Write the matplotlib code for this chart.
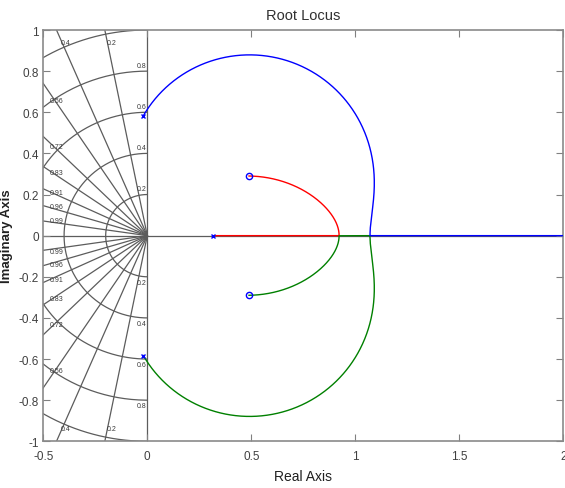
import numpy as np
import matplotlib
matplotlib.use('Agg')
from matplotlib import pyplot as plt

plt.rcParams['font.family'] = ['Liberation Sans', 'DejaVu Sans']

# open-loop poles and zeros
pole_real = 0.317
pole_pair = -0.019 + 0.583j
zero_pair = 0.489 + 0.29j

# s-plane grid: damping ratios and natural frequencies
zetas = [0.2, 0.4, 0.56, 0.72, 0.83, 0.91, 0.96, 0.99]
wns = [0.2, 0.4, 0.6, 0.8, 1.0]

xticks = [-0.5, 0, 0.5, 1, 1.5, 2]
yticks = [-1, -0.8, -0.6, -0.4, -0.2, 0, 0.2, 0.4, 0.6, 0.8, 1]

poles = np.array([pole_real, pole_pair, np.conj(pole_pair)])
zeros = np.array([zero_pair, np.conj(zero_pair)])

den = np.poly(poles).real
num = np.poly(zeros).real
num3 = np.concatenate([[0.0], num])

# break points on the real axis -> gains where branches meet
brk = np.polysub(np.polymul(np.polyder(den), num), np.polymul(den, np.polyder(num)))
sb = np.roots(brk)
sb = sb[(abs(sb.imag) < 1e-9) & (sb.real > pole_real)].real
kb = np.sort(np.polyval(den, sb) / np.polyval(num, sb))
k_lo, k_hi = kb[0], kb[-1]

gains = [np.logspace(-4, 7, 8000)]
for k in kb:
    d = np.logspace(-10, -0.5, 400)
    gains += [k * (1 - d), k * (1 + d), [k]]
gains = np.unique(np.concatenate(gains))

red, green, blue = [], [], []
for K in gains:
    r = np.roots(den - K * num3)
    if k_lo <= K <= k_hi:
        r = np.sort(r.real).astype(complex)
        red.append(r[0]); green.append(r[1]); blue.append(r[2])
    else:
        r = r[np.argsort(r.imag)]
        if K < k_lo:
            red.append(r[1]); blue.append(r[2]); green.append(r[0])
        else:
            blue.append(r[1]); red.append(r[2]); green.append(r[0])
red, green, blue = np.array(red), np.array(green), np.array(blue)

fig = plt.figure(figsize=(5.65, 4.89), dpi=100)
ax = fig.add_axes([0.0766, 0.0955, 0.9204, 0.8411])

gcol = '#5c5c5c'
lab = dict(fontsize=5, color='#3a3a3a', ha='center', va='center')

# damping lines
for z in zetas:
    w = np.sqrt(1 - z ** 2)
    for sgn in (1, -1):
        ax.plot([0, -3 * z], [0, sgn * 3 * w], color=gcol, lw=0.9, zorder=1)
        if z <= 0.4:
            yl = 0.94
            ax.text(-yl * z / w + 0.02, sgn * yl, f'{z:g}', **lab)
        else:
            xl = -0.435
            ax.text(xl, sgn * (-xl * w / z + 0.013), f'{z:g}', **lab)

# natural frequency arcs
th = np.linspace(np.pi / 2, 3 * np.pi / 2, 300)
for wn in wns:
    ax.plot(wn * np.cos(th), wn * np.sin(th), color=gcol, lw=0.9, zorder=1)
    if wn < 1:
        for sgn in (1, -1):
            ax.text(-0.003, sgn * (wn + 0.028), f'{wn:g}', fontsize=5, color='#3a3a3a',
                    ha='right', va='center')

ax.axhline(0, color=gcol, lw=0.9, zorder=1)
ax.axvline(0, color=gcol, lw=0.9, zorder=1)

ax.plot(red.real, red.imag, color=(1, 0, 0), lw=1, zorder=3)
ax.plot(green.real, green.imag, color=(0, 0.5, 0), lw=1, zorder=3)
ax.plot(blue.real, blue.imag, color=(0, 0, 1), lw=1, zorder=3)

ax.plot(poles.real, poles.imag, 'x', color='b', ms=3, mew=1, zorder=4)
ax.plot(zeros.real, zeros.imag, 'o', color='b', mfc='none', ms=4.5, mew=1, zorder=4)

ax.set_xlim(-0.5, 2)
ax.set_ylim(-1, 1)
ax.set_xticks(xticks)
ax.set_xticklabels([f'{t:g}' for t in xticks])
ax.set_yticks(yticks)
ax.set_yticklabels([f'{t:g}' for t in yticks])
ax.tick_params(direction='in', length=5, width=0.8, color='#808080', labelsize=8.5,
               labelcolor='#404040', top=True, right=True)
ax.tick_params(axis='x', pad=6)
ax.tick_params(axis='y', pad=3)
for sp in ax.spines.values():
    sp.set_color('#8a8a8a')
    sp.set_linewidth(1.2)

ax.set_title('Root Locus', fontsize=10.5, color='#303030', pad=8)
ax.set_xlabel('Real Axis', fontsize=10, color='#202020')
ax.xaxis.set_label_coords(0.5, -0.068)
ax.set_ylabel('Imaginary Axis', fontsize=9.5, color='#202020', fontweight='bold')
ax.yaxis.set_label_coords(-0.058, 0.5)

fig.savefig('out.png', dpi=100)
